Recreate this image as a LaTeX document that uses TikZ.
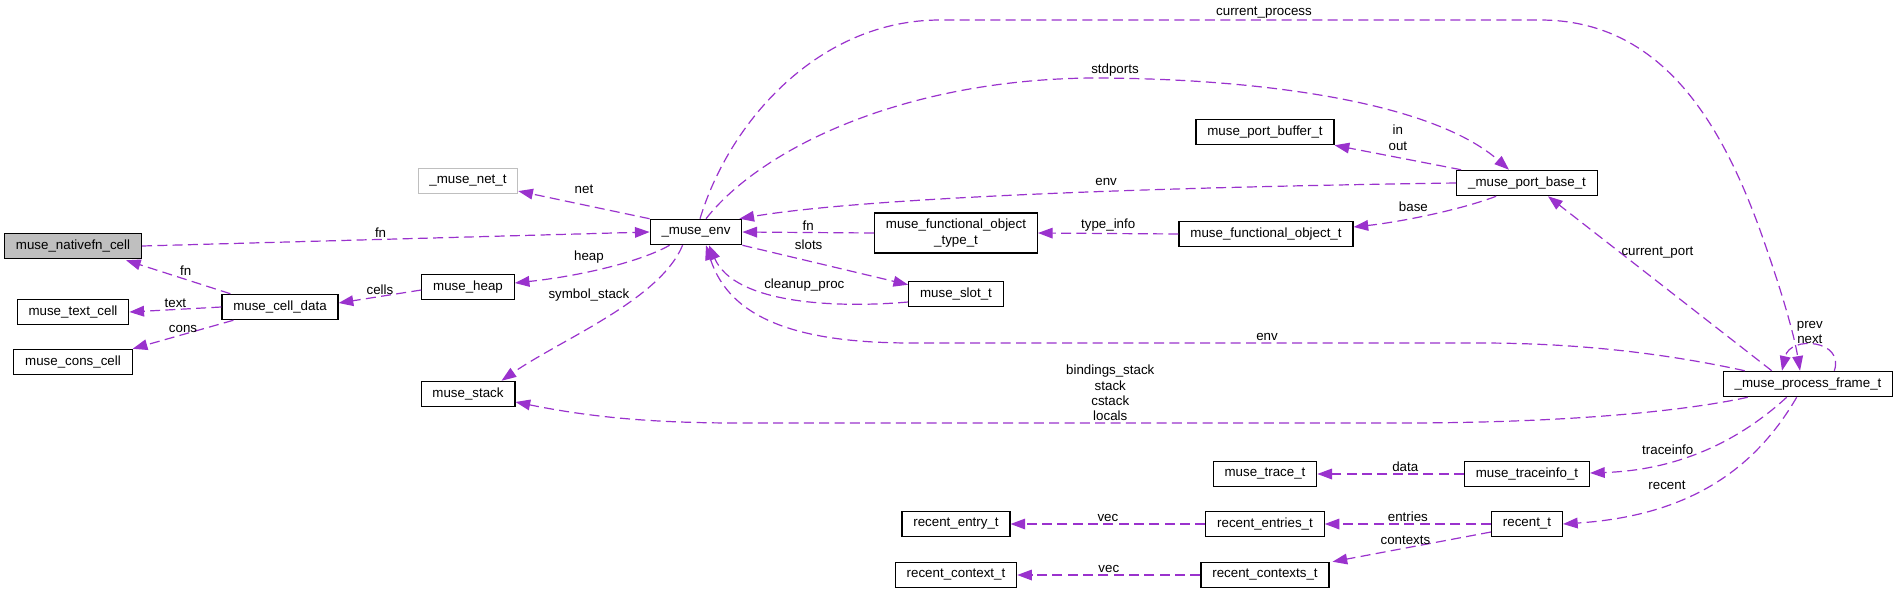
\documentclass[tikz,border=0pt]{standalone}
\usepackage{fontspec}
\setmainfont{Liberation Sans}
\usepackage{tikz}
\usetikzlibrary{calc,arrows.meta}
\definecolor{dxpurple}{HTML}{9A32CD}
\definecolor{dxgray}{HTML}{BFBFBF}

\begin{document}
\begin{tikzpicture}[x=0.75pt, y=-0.75pt, >={Triangle[length=11pt,width=8pt]},
	struct/.style={draw=black, line width=0.9pt, fill=white, inner xsep=8.5pt, inner ysep=0pt,
		minimum height=19pt, font=\fontsize{10pt}{11.5pt}\selectfont},
	uses/.style={->, draw=dxpurple, line width=0.9pt, dash pattern=on 7.5pt off 4pt},
	member/.style={inner sep=1pt, align=center, font=\fontsize{10pt}{11.5pt}\selectfont}]
		
		\useasboundingbox (0,0) rectangle (1899,593);
		
		\node [struct, fill=dxgray] (nativefn-cell) at (73,246) {muse\_nativefn\_cell};
		\node [struct] (text-cell) at (73,312) {muse\_text\_cell};
		\node [struct] (cons-cell) at (73,362) {muse\_cons\_cell};
		\node [struct] (cell-data) at (280,307) {muse\_cell\_data};
		\node [struct, draw=dxgray, line width=0.6pt] (net-t) at (468,181) {\_muse\_net\_t};
		\node [struct] (heap) at (468,287) {muse\_heap};
		\node [struct] (stack) at (468,394) {muse\_stack};
		\node [struct] (env) at (696,232) {\_muse\_env};
		\node [struct, align=center, minimum height=30pt] (fo-type) at (956,233) {muse\_functional\_object\\\_type\_t};
		\node [struct] (slot) at (956,294) {muse\_slot\_t};
		\node [struct] (port-buffer) at (1265,132) {muse\_port\_buffer\_t};
		\node [struct] (fo) at (1266,234) {muse\_functional\_object\_t};
		\node [struct] (port-base) at (1527,183) {\_muse\_port\_base\_t};
		\node [struct] (frame) at (1808,384) {\_muse\_process\_frame\_t};
		\node [struct] (trace) at (1265,474) {muse\_trace\_t};
		\node [struct] (traceinfo) at (1527,474) {muse\_traceinfo\_t};
		\node [struct] (entry) at (956,524) {recent\_entry\_t};
		\node [struct] (entries) at (1265,524) {recent\_entries\_t};
		\node [struct] (recent) at (1527,524) {recent\_t};
		\node [struct] (context) at (956,575) {recent\_context\_t};
		\node [struct] (contexts) at (1265,575) {recent\_contexts\_t};
		
		% cells
		\draw [uses] (nativefn-cell.east) -- (env.west)
		node [member, above, pos=.47] {fn};
		\draw [uses] ($(cell-data.north west)+(9,0)$) -- ($(nativefn-cell.south east)+(-16,1)$)
		node [member, above right, midway] {fn};
		\draw [uses] (cell-data.west) -- (text-cell.east)
		node [member, above, midway] {text};
		\draw [uses] ($(cell-data.south west)+(12,0)$) -- (cons-cell.north east)
		node [member, above, midway] {cons};
		\draw [uses] ($(heap.west)+(0,3)$) -- ($(cell-data.east)+(0,-4)$)
		node [member, above, midway] {cells};
		
		% env
		\draw [uses] (env.north west) -- ($(net-t.south east)+(0,-3)$)
		node [member, above=7pt, midway] {net};
		\draw [uses] ($(env.south west)+(20,0)$) .. controls (640,262) and (580,276) .. ($(heap.east)+(0,-4)$)
		node [member, above=5pt, pos=.6] {heap};
		\draw [uses] ($(env.south west)+(33,0)$) .. controls (660,300) and (560,340) .. ($(stack.north east)+(-14,0)$)
		node [member, left=6pt, pos=.33] {symbol\_stack};
		\draw [uses] (fo-type.west) -- (env.east)
		node [member, above, midway] {fn};
		\draw [uses] (env.south east) -- ($(slot.north west)+(0,4)$)
		node [member, above=7pt, pos=.4] {slots};
		\draw [uses] ($(slot.west)+(0,8)$) .. controls (840,308) and (735,305) .. ($(env.south)+(13,0)$)
		node [member, above=5pt, pos=.45] {cleanup\_proc};
		
		% ports
		\draw [uses] (fo.west) -- (fo-type.east)
		node [member, above, midway] {type\_info};
		\draw [uses] ($(port-base.south west)+(40,0)$) .. controls (1460,210) and (1400,222) .. ($(fo.east)+(0,-7)$)
		node [member, above=3pt, pos=.6] {base};
		\draw [uses] ($(port-base.north west)+(5,0)$) -- (port-buffer.south east)
		node [member, above=4pt, midway] {in\\out};
		\draw [uses] (port-base.west) .. controls (1100,188) and (850,200) .. ($(env.north east)+(-3,0)$)
		node [member, above=3pt, pos=.37] {env};
		\draw [uses] ($(env.north)+(10,0)$) .. controls (760,150) and (900,80) .. (1091,78)
		.. controls (1250,78) and (1430,100) .. ($(port-base.north)+(-18,0)$)
		node [member, above, pos=.05] {stdports};
		
		% process frame
		\draw [uses] ($(env.north)+(4,0)$) .. controls (730,120) and (820,20) .. (940,20) -- (1540,20)
		node [member, above, pos=.54] {current\_process}
		.. controls (1660,20) and (1720,120) .. (1760,230)
		.. controls (1785,300) and (1795,340) .. ($(frame.north)+(-8,0)$);
		\draw [uses] ($(frame.north west)+(22,0)$) .. controls (1650,350) and (1560,343) .. (1480,343) -- (912,343)
		node [member, above, pos=.375] {env}
		.. controls (800,343) and (730,320) .. ($(env.south)+(10,0)$);
		\draw [uses] ($(frame.north west)+(49,0)$) -- ($(port-base.south)+(21,0)$)
		node [member, right, pos=.68] {current\_port};
		\draw [uses] ($(frame.south west)+(25,0)$) .. controls (1680,412) and (1560,423) .. (1400,423) -- (737,423)
		node [member, above, pos=.437] {bindings\_stack\\stack\\cstack\\locals}
		.. controls (640,423) and (580,415) .. ($(stack.east)+(0,8)$);
		\draw [uses] ($(frame.north east)+(-59,0)$) .. controls (1845,340) and (1790,335) .. ($(frame.north)+(-26,0)$)
		node [member, above, pos=.5, xshift=-4pt] {prev\\next};
		\draw [uses] ($(frame.south west)+(64,0)$) .. controls (1740,440) and (1680,470) .. ($(traceinfo.east)+(0,-1)$)
		node [member, above=4pt, pos=.68] {traceinfo};
		\draw [uses] ($(frame.south west)+(74,0)$) .. controls (1760,460) and (1700,515) .. (recent.east)
		node [member, above=10pt, pos=.7] {recent};
		
		% recent
		\draw [uses] (traceinfo.west) -- (trace.east)
		node [member, above, pos=.4] {data};
		\draw [uses] (recent.west) -- (entries.east)
		node [member, above, midway] {entries};
		\draw [uses] ($(recent.west)+(0,8)$) -- ($(contexts.north east)+(3,0)$)
		node [member, above=1pt, pos=.54] {contexts};
		\draw [uses] (entries.west) -- (entry.east)
		node [member, above, midway] {vec};
		\draw [uses] (contexts.west) -- (context.east)
		node [member, above, midway] {vec};

		\end{tikzpicture}
\end{document}
